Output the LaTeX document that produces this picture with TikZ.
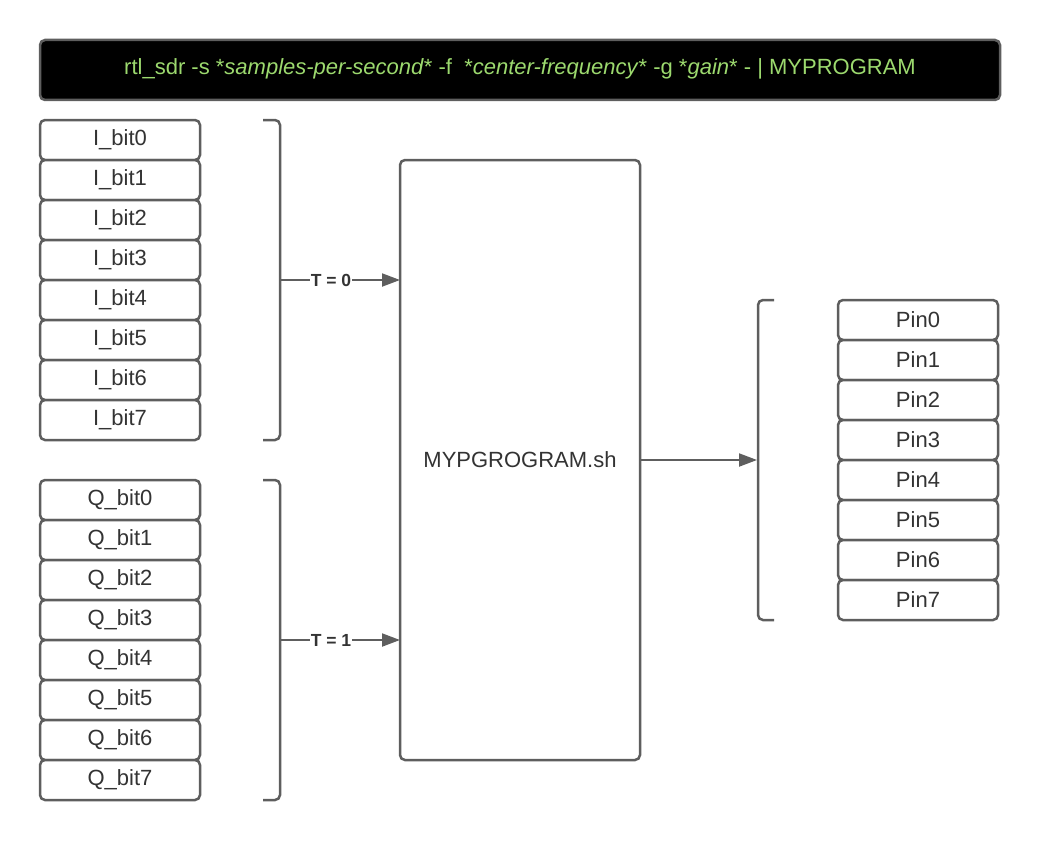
\documentclass[tikz,border=0pt]{standalone}
\usepackage{fontspec}
\setmainfont{Liberation Sans}
\usetikzlibrary{arrows.meta}
\definecolor{edge}{HTML}{5E5E5E}
\definecolor{txt}{HTML}{333333}
\definecolor{cmd}{HTML}{9CD96E}
\tikzset{
  cell/.style={draw=edge, line width=2.5pt, rounded corners=5pt, fill=white,
    minimum width=160pt, minimum height=40pt, inner sep=0pt, outer sep=0pt,
    font=\fontsize{22}{26}\selectfont, text=txt},
  header/.style={draw=edge, line width=2.5pt, rounded corners=5pt, fill=black,
    minimum width=960pt, minimum height=60pt, inner sep=0pt},
  cmdtext/.style={inner sep=0pt, font=\fontsize{22}{26}\selectfont, text=cmd},
  prog/.style={draw=edge, line width=2.5pt, rounded corners=5pt, fill=white,
    minimum width=240pt, minimum height=600pt, inner sep=0pt, outer sep=0pt,
    font=\fontsize{22}{26}\selectfont, text=txt},
  bracket/.style={draw=edge, line width=2.5pt, rounded corners=5pt},
  conn/.style={draw=edge, line width=2pt, -{Triangle[length=18pt,width=13pt]}},
  tlabel/.style={fill=white, inner sep=1pt, text=txt, font=\fontsize{17.5}{20}\selectfont\bfseries}
}
\begin{document}
\begin{tikzpicture}[x=1pt,y=-1pt]
\useasboundingbox (0,0) rectangle (1040,840);
\node[header] (cmdline) at (520,70) {};
\node[cmdtext] (cmdlabel) at (520,69) {rtl\_sdr -s *\textit{samples-per-second}* -f\ \ *\textit{center-frequency}* -g *\textit{gain}* - | MYPROGRAM};
\foreach \i in {0,...,7} {
  \node[cell] (I\i) at (120,{140+40*\i}) {I\_bit\i};
  \node[cell] (Q\i) at (120,{500+40*\i}) {Q\_bit\i};
  \node[cell] (P\i) at (918,{320+40*\i}) {Pin\i};
}
\node[prog] (prog) at (520,460) {MYPGROGRAM.sh};
\draw[bracket] (263,120) -- (280,120) -- (280,440) -- (263,440);
\draw[bracket] (263,480) -- (280,480) -- (280,800) -- (263,800);
\draw[bracket] (774,300) -- (758,300) -- (758,620) -- (774,620);
\coordinate (ibr) at (281,280);
\coordinate (qbr) at (281,640);
\coordinate (pbr) at (757,460);
\draw[conn] (ibr) -- (ibr -| prog.west) node[tlabel, pos=0.42] {T = 0};
\draw[conn] (qbr) -- (qbr -| prog.west) node[tlabel, pos=0.42] {T = 1};
\draw[conn] (prog.east) -- (pbr);
\end{tikzpicture}
\end{document}
